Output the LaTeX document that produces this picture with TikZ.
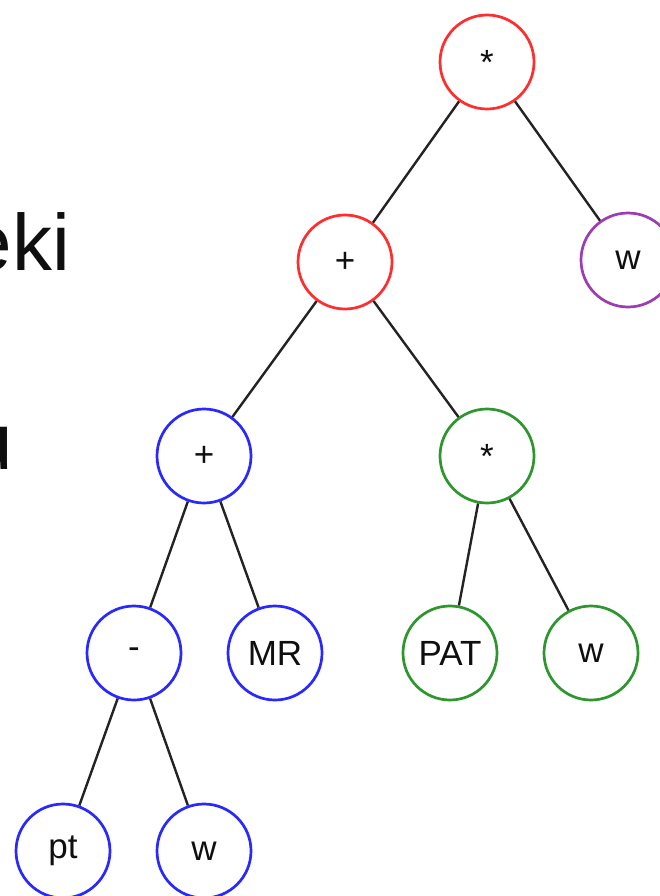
\documentclass[tikz,border=0pt]{standalone}
\usepackage{fontspec}
\setmainfont{Liberation Sans}
\definecolor{cred}{RGB}{255,45,45}
\definecolor{cblue}{RGB}{40,40,255}
\definecolor{cgreen}{RGB}{45,150,45}
\definecolor{cpurple}{RGB}{155,60,180}
\definecolor{cedge}{RGB}{35,35,35}
\definecolor{ctext}{RGB}{15,15,15}
\tikzset{
  tnode/.style={circle, draw, line width=2.7pt, minimum size=94pt, inner sep=0pt,
    text=ctext, font=\fontsize{35}{40}\selectfont},
  rnode/.style={tnode, draw=cred},
  bnode/.style={tnode, draw=cblue},
  gnode/.style={tnode, draw=cgreen},
  pnode/.style={tnode, draw=cpurple},
  edge/.style={draw=cedge, line width=2.4pt},
  bigtext/.style={inner sep=0pt, text=ctext, font=\fontsize{80}{90}\selectfont}
}
\begin{document}
\begin{tikzpicture}[x=1pt,y=-1pt]
\fill[white] (0,0) rectangle (659,896);
\useasboundingbox (0,0) rectangle (659,896);
\node[bigtext, anchor=base east] (t1) at (70,270) {eki};
\node[bigtext, anchor=base east] (t2) at (13,469) {u};
\node[rnode] (root) at (487,62) {*};
\node[rnode] (rplus) at (345,262) {+};
\node[pnode] (pw) at (628,260) {w};
\node[bnode] (bplus) at (204,456) {+};
\node[gnode] (gstar) at (487,456) {*};
\node[bnode] (minus) at (134,653) {-};
\node[bnode] (mr) at (275,653) {MR};
\node[gnode] (pat) at (450,653) {PAT};
\node[gnode] (gw) at (591,653) {w};
\node[bnode] (pt) at (63,851) {pt};
\node[bnode] (bw) at (204,851) {w};
\draw[edge] (root) -- (rplus);
\draw[edge] (root) -- (pw);
\draw[edge] (rplus) -- (bplus);
\draw[edge] (rplus) -- (gstar);
\draw[edge] (bplus) -- (minus);
\draw[edge] (bplus) -- (mr);
\draw[edge] (gstar) -- (pat);
\draw[edge] (gstar) -- (gw);
\draw[edge] (minus) -- (pt);
\draw[edge] (minus) -- (bw);
\end{tikzpicture}
\end{document}
